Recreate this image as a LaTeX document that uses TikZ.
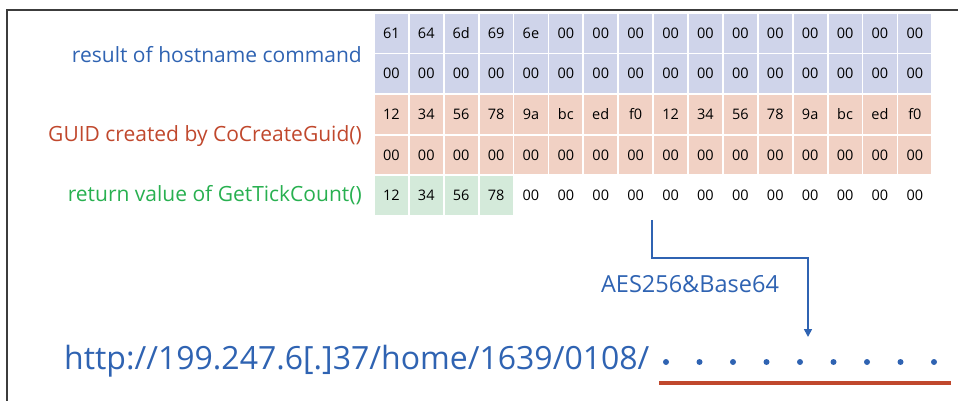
\documentclass[tikz,border=0pt]{standalone}
\usepackage{fontspec}
\setmainfont{Open Sans}
\usetikzlibrary{positioning,arrows.meta}

\definecolor{hostblue}{RGB}{47,99,178}
\definecolor{guidred}{RGB}{192,72,45}
\definecolor{tickgreen}{RGB}{40,176,80}
\definecolor{hostfill}{RGB}{207,212,234}
\definecolor{guidfill}{RGB}{241,209,196}
\definecolor{tickfill}{RGB}{212,234,218}
\definecolor{framegray}{RGB}{60,60,60}

\begin{document}
\begin{tikzpicture}[
  x=1pt,y=-1pt,
  >={Triangle[length=8pt,width=8pt]},
  cell/.style={draw=white,line width=1.8pt,minimum width=34.9pt,minimum height=40.6pt,
               inner sep=0pt,anchor=north west,font=\fontsize{14.5}{16}\selectfont},
  lbl/.style={font=\fontsize{21}{24}\selectfont,inner sep=0pt},
  dot/.style={circle,fill=hostblue,inner sep=0pt,minimum size=6pt}
]
  \useasboundingbox (0,0) rectangle (958,401);

  % frame
  \draw[framegray,line width=2pt] (7,401) -- (7,10) -- (958,10);

  % hostname rows
  \foreach \v [count=\c] in {61,64,6d,69,6e,00,00,00,00,00,00,00,00,00,00,00}
    \node[cell,fill=hostfill] (h1-\c) at ({373+(\c-1)*34.9},12) {\v};
  \foreach \c in {1,...,16}
    \node[cell,fill=hostfill] (h2-\c) at ({373+(\c-1)*34.9},52.6) {00};

  % guid rows
  \foreach \v [count=\c] in {12,34,56,78,9a,bc,ed,f0,12,34,56,78,9a,bc,ed,f0}
    \node[cell,fill=guidfill] (g1-\c) at ({373+(\c-1)*34.9},93.2) {\v};
  \foreach \c in {1,...,16}
    \node[cell,fill=guidfill] (g2-\c) at ({373+(\c-1)*34.9},133.8) {00};

  % tick count row
  \foreach \v [count=\c] in {12,34,56,78,00,00,00,00,00,00,00,00,00,00,00,00}{
    \ifnum\c<5 \def\cf{tickfill}\else\def\cf{white}\fi
    \node[cell,fill=\cf] (t-\c) at ({373+(\c-1)*34.9},174.4) {\v};
  }

  % labels
  \node[lbl,text=hostblue,left=11pt of h1-1.south west] (hostlbl) {result of hostname command};
  \node[lbl,text=guidred,left=11pt of g1-1.south west] (guidlbl) {GUID created by CoCreateGuid()};
  \node[lbl,text=tickgreen,left=11pt of t-1.west] (ticklbl) {return value of GetTickCount()};

  % url and encoded part
  \node[font=\fontsize{32}{36}\selectfont,text=hostblue,anchor=west,inner sep=0pt] (url) at (64,361)
       {http://199.247.6[.]37/home/1639/0108/};
  \foreach \i in {1,...,9}
    \node[dot] (d\i) at ({666+(\i-1)*33.5},362) {};
  \draw[guidred,line width=3.2pt] (659,383) -- (951,383);

  % encryption arrow
  \coordinate (src) at ([yshift=-3pt]t-9.south west);
  \coordinate (dst) at (808,337);
  \draw[->,hostblue,line width=1.6pt] (src) -- ++(0,38) -| (dst);
  \node[lbl,text=hostblue,font=\fontsize{23.5}{26}\selectfont] (enc) at (690,284) {AES256\&Base64};
\end{tikzpicture}
\end{document}
